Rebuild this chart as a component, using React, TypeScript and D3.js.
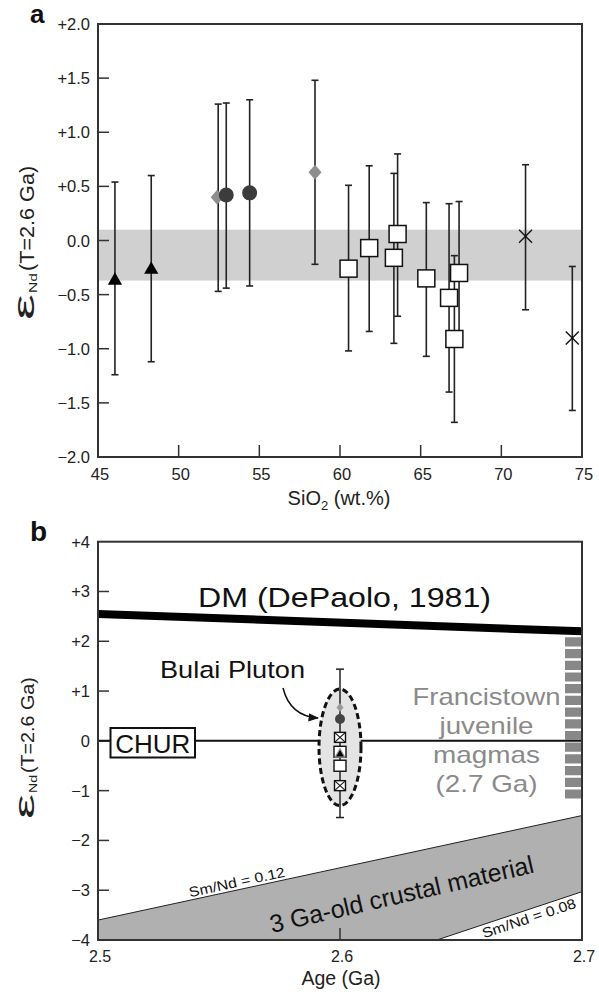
import React from "react";
import * as d3 from "d3";

// ---------- Panel a data ----------
const triSiO2 = [46.05, 48.3];
const triEps = [-0.37, -0.27];
const triHi = [0.54, 0.6];
const triLo = [-1.24, -1.12];

const diaSiO2 = [52.45, 58.45];
const diaEps = [0.4, 0.63];
const diaHi = [1.26, 1.48];
const diaLo = [-0.47, -0.22];

const cirSiO2 = [52.95, 54.4];
const cirEps = [0.42, 0.44];
const cirHi = [1.27, 1.3];
const cirLo = [-0.44, -0.42];

const sqSiO2 = [60.53, 61.81, 63.34, 63.57, 65.35, 66.76, 67.09, 67.38];
const sqEps = [-0.26, -0.07, -0.16, 0.06, -0.35, -0.53, -0.91, -0.3];
const sqHi = [0.51, 0.69, 0.62, 0.8, 0.35, 0.34, -0.14, 0.36];
const sqLo = [-1.02, -0.84, -0.95, -0.7, -1.07, -1.4, -1.68, -0.96];

const crSiO2 = [71.5, 74.4];
const crEps = [0.04, -0.9];
const crHi = [0.7, -0.24];
const crLo = [-0.64, -1.57];

const bandRange = [0.1, -0.37];

const aXTicks = [45, 50, 55, 60, 65, 70, 75];
const aYTicks = [-2, -1.5, -1, -0.5, 0, 0.5, 1, 1.5, 2];

// ---------- Panel b data ----------
const dmAge = [2.5, 2.7];
const dmEps = [2.55, 2.2];
const churEps = 0;
const crustUpperAge = [2.5, 2.7];
const crustUpperEps = [-3.6, -1.5];
const crustLowerAge = [2.64, 2.7];
const crustLowerEps = [-4, -3.03];
const franAge = 2.7;
const franRange = [2.08, -1.2];
const bulaiAge = 2.6;
const bulaiEllipse = [1.04, -1.3];
const bulaiErr = [1.44, -1.54];
const bulaiTypes = ["diamond", "circle", "xsquare", "square", "triangle", "square", "xsquare"];
const bulaiEps = [0.67, 0.44, 0.07, -0.22, -0.27, -0.5, -0.9];

const bXTicks = [2.5, 2.6, 2.7];
const bYTicks = [-4, -3, -2, -1, 0, 1, 2, 3, 4];

const FONT = "'Liberation Sans', Arial, Helvetica, sans-serif";
const FRAME = "#333";

const xA = d3.scaleLinear().domain([45, 75]).range([98, 582]);
const yA = d3.scaleLinear().domain([-2, 2]).range([457, 24]);
const xB = d3.scaleLinear().domain([2.5, 2.7]).range([98, 582]);
const yB = d3.scaleLinear().domain([-4, 4]).range([940, 541.7]);

const fmtA = (v: number) => (v > 0 ? "+" + v.toFixed(1) : v < 0 ? "\u2212" + Math.abs(v).toFixed(1) : "0.0");
const fmtB = (v: number) => (v > 0 ? "+" + v : v < 0 ? "\u2212" + Math.abs(v) : "0");

function ErrBar({ x, y1, y2, cap = 3.5, sw = 1.6 }: any) {
  return (
    <g stroke="#222" strokeWidth={sw}>
      <line x1={x} x2={x} y1={y1} y2={y2} />
      <line x1={x - cap} x2={x + cap} y1={y1} y2={y1} />
      <line x1={x - cap} x2={x + cap} y1={y2} y2={y2} />
    </g>
  );
}

const triPath = d3.symbol().type(d3.symbolTriangle).size(88)() as string;
const triSmall = d3.symbol().type(d3.symbolTriangle).size(40)() as string;

export default function App() {
  const ax0 = xA.range()[0], ax1 = xA.range()[1];
  const ay0 = yA.range()[1], ay1 = yA.range()[0];
  const bx0 = xB.range()[0], bx1 = xB.range()[1];
  const by0 = yB.range()[1], by1 = yB.range()[0];

  const crustPoly = [
    [xB(crustUpperAge[0]), yB(crustUpperEps[0])],
    [xB(crustUpperAge[1]), yB(crustUpperEps[1])],
    [xB(crustLowerAge[1]), yB(crustLowerEps[1])],
    [xB(crustLowerAge[0]), yB(crustLowerEps[0])],
    [xB(2.5), yB(-4)],
  ];
  const upAng =
    (Math.atan2(yB(crustUpperEps[1]) - yB(crustUpperEps[0]), xB(crustUpperAge[1]) - xB(crustUpperAge[0])) * 180) /
    Math.PI;
  const loAng =
    (Math.atan2(yB(crustLowerEps[1]) - yB(crustLowerEps[0]), xB(crustLowerAge[1]) - xB(crustLowerAge[0])) * 180) /
    Math.PI;
  const upY = (px: number) => {
    const t = (xB.invert(px) - crustUpperAge[0]) / (crustUpperAge[1] - crustUpperAge[0]);
    return yB(crustUpperEps[0] + t * (crustUpperEps[1] - crustUpperEps[0]));
  };
  const loY = (px: number) => {
    const t = (xB.invert(px) - crustLowerAge[0]) / (crustLowerAge[1] - crustLowerAge[0]);
    return yB(crustLowerEps[0] + t * (crustLowerEps[1] - crustLowerEps[0]));
  };

  const bx = xB(bulaiAge);
  const ellCy = (yB(bulaiEllipse[0]) + yB(bulaiEllipse[1])) / 2;
  const ellRy = (yB(bulaiEllipse[1]) - yB(bulaiEllipse[0])) / 2;

  const yLabel = (tx: number, ty: number, big: number, parenFont: number, parenLen: number, epsLen: number) => (
    <g transform={`translate(${tx},${ty}) rotate(-90)`} fontFamily={FONT} fill="#222">
      <text x={0} y={0} fontSize={big} textLength={epsLen} lengthAdjust="spacingAndGlyphs">
        ε
      </text>
      <text x={epsLen + 1} y={3} fontSize={parenFont * 0.55} textLength={parenFont * 0.95} lengthAdjust="spacingAndGlyphs">
        Nd
      </text>
      <text x={epsLen + parenFont * 1.1} y={0} fontSize={parenFont} textLength={parenLen} lengthAdjust="spacingAndGlyphs">
        (T=2.6 Ga)
      </text>
    </g>
  );

  return (
    <>
      <style>{`body{margin:0}`}</style>
      <svg width={599} height={996} style={{ display: "block", background: "#fff" }} fontFamily={FONT}>
        {/* ================= Panel a ================= */}
        <text x={30} y={23} fontSize={26} fontWeight="bold" fill="#111">
          a
        </text>
        <rect x={ax0} y={yA(bandRange[0])} width={ax1 - ax0} height={yA(bandRange[1]) - yA(bandRange[0])} fill="#d0d0d0" />
        {/* ticks */}
        {aXTicks.slice(1, -1).map((t) => (
          <line key={"axt" + t} x1={xA(t)} x2={xA(t)} y1={ay1} y2={ay1 - 12} stroke={FRAME} strokeWidth={1.5} />
        ))}
        {aYTicks.slice(1, -1).map((t) => (
          <line key={"ayt" + t} x1={ax0} x2={ax0 + 11} y1={yA(t)} y2={yA(t)} stroke={FRAME} strokeWidth={1.5} />
        ))}
        {aXTicks.map((t) => (
          <text key={"axl" + t} x={xA(t) + 2} y={480} fontSize={16.5} textAnchor="middle" fill="#222">
            {t}
          </text>
        ))}
        {aYTicks.map((t) => (
          <text key={"ayl" + t} x={90} y={yA(t) + 6} fontSize={16.5} textAnchor="end" fill="#222">
            {fmtA(t)}
          </text>
        ))}
        <text x={339} y={505} fontSize={20} textAnchor="middle" fill="#222">
          SiO
          <tspan fontSize={13} dy={5}>
            2
          </tspan>
          <tspan dy={-5}> (wt.%)</tspan>
        </text>
        {yLabel(34, 320, 29, 21, 105, 26)}

        {/* error bars */}
        {triSiO2.map((s, i) => (
          <ErrBar key={"te" + i} x={xA(s)} y1={yA(triHi[i])} y2={yA(triLo[i])} />
        ))}
        {diaSiO2.map((s, i) => (
          <ErrBar key={"de" + i} x={xA(s)} y1={yA(diaHi[i])} y2={yA(diaLo[i])} />
        ))}
        {cirSiO2.map((s, i) => (
          <ErrBar key={"ce" + i} x={xA(s)} y1={yA(cirHi[i])} y2={yA(cirLo[i])} />
        ))}
        {sqSiO2.map((s, i) => (
          <ErrBar key={"se" + i} x={xA(s)} y1={yA(sqHi[i])} y2={yA(sqLo[i])} />
        ))}
        {crSiO2.map((s, i) => (
          <ErrBar key={"xe" + i} x={xA(s)} y1={yA(crHi[i])} y2={yA(crLo[i])} />
        ))}
        {/* markers */}
        {diaSiO2.map((s, i) => {
          const cx = xA(s) - (i === 0 ? 1 : 0), cy = yA(diaEps[i]);
          return (
            <path key={"dm" + i} d={`M${cx},${cy - 7.5}L${cx + 6.5},${cy}L${cx},${cy + 7.5}L${cx - 6.5},${cy}Z`} fill="#8e8e8e" />
          );
        })}
        {cirSiO2.map((s, i) => (
          <circle key={"cm" + i} cx={xA(s)} cy={yA(cirEps[i])} r={7.5} fill="#3c3c3c" />
        ))}
        {triSiO2.map((s, i) => (
          <path key={"tm" + i} d={triPath} transform={`translate(${xA(s)},${yA(triEps[i])})`} fill="#000" />
        ))}
        {sqSiO2.map((s, i) => (
          <rect key={"sm" + i} x={xA(s) - 8.5} y={yA(sqEps[i]) - 8.5} width={17} height={17} fill="#fff" stroke="#111" strokeWidth={1.5} />
        ))}
        {crSiO2.map((s, i) => {
          const cx = xA(s), cy = yA(crEps[i]);
          return (
            <g key={"xm" + i} stroke="#111" strokeWidth={1.4}>
              <line x1={cx - 6.5} x2={cx + 6.5} y1={cy - 6.5} y2={cy + 6.5} />
              <line x1={cx - 6.5} x2={cx + 6.5} y1={cy + 6.5} y2={cy - 6.5} />
            </g>
          );
        })}
        <rect x={ax0} y={ay0} width={ax1 - ax0} height={ay1 - ay0} fill="none" stroke={FRAME} strokeWidth={2} />

        {/* ================= Panel b ================= */}
        <text x={30} y={541} fontSize={28} fontWeight="bold" fill="#111">
          b
        </text>
        <polygon points={crustPoly.map((p) => p.join(",")).join(" ")} fill="#b0b0b0" stroke="#222" strokeWidth={1} />
        {bXTicks.slice(1, -1).map((t) => (
          <line key={"bxt" + t} x1={xB(t)} x2={xB(t)} y1={by1} y2={by1 - 12} stroke={FRAME} strokeWidth={1.5} />
        ))}
        {bYTicks.slice(1, -1).map((t) => (
          <line key={"byt" + t} x1={bx0} x2={bx0 + 11} y1={yB(t)} y2={yB(t)} stroke={FRAME} strokeWidth={1.5} />
        ))}
        {bXTicks.map((t) => (
          <text key={"bxl" + t} x={xB(t) + 2} y={962} fontSize={16} textAnchor="middle" fill="#222">
            {t.toFixed(1)}
          </text>
        ))}
        {bYTicks.map((t) => (
          <text key={"byl" + t} x={90} y={yB(t) + 6} fontSize={16.5} textAnchor="end" fill="#222">
            {fmtB(t)}
          </text>
        ))}
        <text x={341} y={985} fontSize={19.5} textAnchor="middle" fill="#222">
          Age (Ga)
        </text>
        {yLabel(34, 819, 27, 19, 96, 25)}

        {/* DM line */}
        <line x1={xB(dmAge[0])} y1={yB(dmEps[0])} x2={xB(dmAge[1])} y2={yB(dmEps[1])} stroke="#000" strokeWidth={8} />
        <text x={198} y={607} fontSize={28} textLength={293} lengthAdjust="spacingAndGlyphs" fill="#111">
          DM (DePaolo, 1981)
        </text>
        {/* CHUR */}
        <line x1={bx0} x2={bx1} y1={yB(churEps)} y2={yB(churEps)} stroke="#111" strokeWidth={2} />
        <rect x={110.5} y={728} width={84.5} height={29.5} fill="#fff" stroke="#111" strokeWidth={2} />
        <text x={152.7} y={753} fontSize={26} textAnchor="middle" fill="#111">
          CHUR
        </text>

        {/* Francistown */}
        <line
          x1={xB(franAge) - 9}
          x2={xB(franAge) - 9}
          y1={yB(franRange[0])}
          y2={yB(franRange[1])}
          stroke="#888"
          strokeWidth={16}
          strokeDasharray="9.2,2.5"
        />
        {["Francistown", "juvenile", "magmas", "(2.7 Ga)"].map((s, i) => (
          <text
            key={s}
            x={486.5}
            y={705 + i * 29}
            fontSize={24}
            textAnchor="middle"
            fill="#8a8a8a"
            textLength={[148, 94, 107, 102][i]}
            lengthAdjust="spacingAndGlyphs"
          >
            {s}
          </text>
        ))}

        {/* Bulai Pluton */}
        <text x={160} y={678} fontSize={24.5} textLength={145} lengthAdjust="spacingAndGlyphs" fill="#111">
          Bulai Pluton
        </text>
        <defs>
          <marker id="ah" viewBox="0 0 10 10" refX={9} refY={5} markerWidth={7} markerHeight={7} orient="auto">
            <path d="M0,1L10,5L0,9Z" fill="#111" />
          </marker>
        </defs>
        <path d="M283,688 Q290,716 318,718" fill="none" stroke="#111" strokeWidth={1.5} markerEnd="url(#ah)" />
        <ellipse cx={bx} cy={ellCy} rx={21} ry={ellRy} fill="#e4e4e4" stroke="#111" strokeWidth={3} strokeDasharray="6,3.5" />
        <ErrBar x={bx} y1={yB(bulaiErr[0])} y2={yB(bulaiErr[1])} cap={4} sw={1.5} />
        {bulaiTypes.map((t, i) => {
          const cy = yB(bulaiEps[i]);
          if (t === "diamond")
            return <path key={i} d={`M${bx},${cy - 4.5}L${bx + 3.5},${cy}L${bx},${cy + 4.5}L${bx - 3.5},${cy}Z`} fill="#9a9a9a" />;
          if (t === "circle") return <circle key={i} cx={bx} cy={cy} r={5} fill="#444" />;
          if (t === "triangle")
            return (
              <path key={i} d={triSmall} transform={`translate(${bx},${cy})`} fill="#000" stroke="#999" strokeWidth={1.2} />
            );
          if (t === "square")
            return <rect key={i} x={bx - 6} y={cy - 5.5} width={12} height={11} fill="#fff" stroke="#111" strokeWidth={1.4} />;
          return (
            <g key={i}>
              <rect x={bx - 5.5} y={cy - 5} width={11} height={10} fill="#fff" stroke="#111" strokeWidth={1.4} />
              <line x1={bx - 5.5} y1={cy - 5} x2={bx + 5.5} y2={cy + 5} stroke="#111" strokeWidth={1.1} />
              <line x1={bx - 5.5} y1={cy + 5} x2={bx + 5.5} y2={cy - 5} stroke="#111" strokeWidth={1.1} />
            </g>
          );
        })}

        {/* crust labels */}
        <text
          transform={`translate(${190},${upY(190) - 3}) rotate(${upAng})`}
          fontSize={14}
          textLength={98}
          lengthAdjust="spacingAndGlyphs"
          fill="#111"
        >
          Sm/Nd = 0.12
        </text>
        <text
          transform={`translate(${272},${933}) rotate(${upAng - 0.8})`}
          fontSize={25}
          textLength={270}
          lengthAdjust="spacingAndGlyphs"
          fill="#111"
        >
          3 Ga-old crustal material
        </text>
        <text
          transform={`translate(${484},${loY(484) + 14}) rotate(${loAng})`}
          fontSize={14}
          textLength={98}
          lengthAdjust="spacingAndGlyphs"
          fill="#111"
        >
          Sm/Nd = 0.08
        </text>

        <rect x={bx0} y={by0} width={bx1 - bx0} height={by1 - by0} fill="none" stroke={FRAME} strokeWidth={2} />
      </svg>
    </>
  );
}
